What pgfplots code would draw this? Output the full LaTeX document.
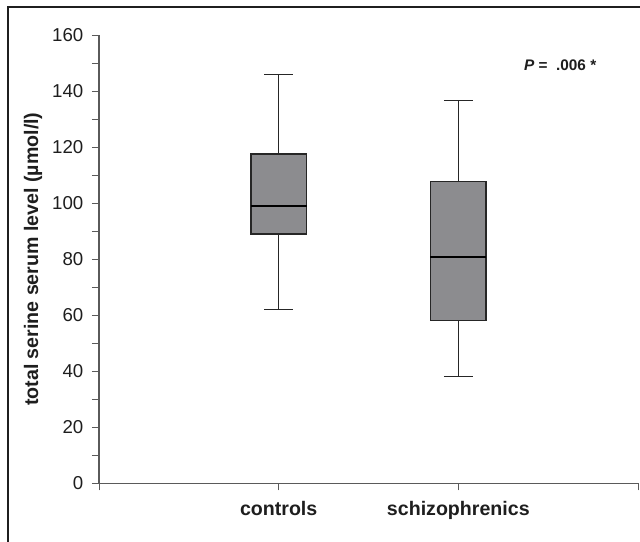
\documentclass[border=0pt]{standalone}
\usepackage{pgfplots}
\pgfplotsset{compat=1.18}
\usepackage{fontspec}
\setmainfont{Liberation Sans}
\definecolor{boxgray}{RGB}{140,140,143}
\definecolor{axgray}{RGB}{90,90,90}
\definecolor{txt}{RGB}{30,30,30}
\begin{document}
\begin{tikzpicture}
\useasboundingbox (0pt,0pt) rectangle (480pt,406.5pt);
\draw[line width=2pt, color=black!88] (6pt,0pt) -- (6pt,401.25pt) -- (480pt,401.25pt);
\begin{axis}[
  at={(74.25pt,44pt)}, anchor=south west,
  scale only axis, width=404.25pt, height=336.2pt,
  xmin=0, xmax=3, ymin=0, ymax=160,
  axis x line*=bottom, axis y line*=left,
  axis line style={color=axgray, line width=0.9pt},
  xtick={0,1,2,3}, xticklabels={,controls,schizophrenics,},
  ytick={0,20,...,160}, minor ytick={10,30,...,150},
  tick align=outside,
  major tick length=5.25pt, minor tick length=5.25pt,
  tick style={color=axgray, line width=0.7pt},
  yticklabel style={font=\fontsize{14}{16}\selectfont, text=txt, xshift=-3pt},
  xticklabel style={font=\bfseries\fontsize{14.7}{17}\selectfont, text=txt, yshift=-5pt},
  /pgf/number format/assume math mode=true,
  ylabel={total serine serum level (µmol/l)},
  ylabel style={font=\bfseries\fontsize{14.7}{17}\selectfont, text=txt, at={(axis description cs:-0.1224,0.5)}, anchor=center},
  clip=false,
]
% controls
\addplot[black!85, line width=0.8pt] coordinates {(1,117.5) (1,146)};
\addplot[black!85, line width=0.8pt] coordinates {(0.92,146) (1.08,146)};
\addplot[black!85, line width=0.8pt] coordinates {(1,89) (1,62)};
\addplot[black!85, line width=0.8pt] coordinates {(0.92,62) (1.08,62)};
\addplot[fill=boxgray, draw=black!85, line width=1.1pt] coordinates {(0.845,89) (1.155,89) (1.155,117.5) (0.845,117.5)} -- cycle;
\addplot[black, line width=1.1pt] coordinates {(0.845,99) (1.155,99)};
% schizophrenics
\addplot[black!85, line width=0.8pt] coordinates {(2,107.7) (2,136.8)};
\addplot[black!85, line width=0.8pt] coordinates {(1.92,136.8) (2.08,136.8)};
\addplot[black!85, line width=0.8pt] coordinates {(2,58.1) (2,38.1)};
\addplot[black!85, line width=0.8pt] coordinates {(1.92,38.1) (2.08,38.1)};
\addplot[fill=boxgray, draw=black!85, line width=1.1pt] coordinates {(1.845,58.1) (2.155,58.1) (2.155,107.7) (1.845,107.7)} -- cycle;
\addplot[black, line width=1.1pt] coordinates {(1.845,80.8) (2.155,80.8)};
\node[font=\bfseries\fontsize{11.5}{13}\selectfont, text=txt] at (axis cs:2.567,149.4) {\textit{P} =\ \ .006 *};
\end{axis}
\end{tikzpicture}
\end{document}
